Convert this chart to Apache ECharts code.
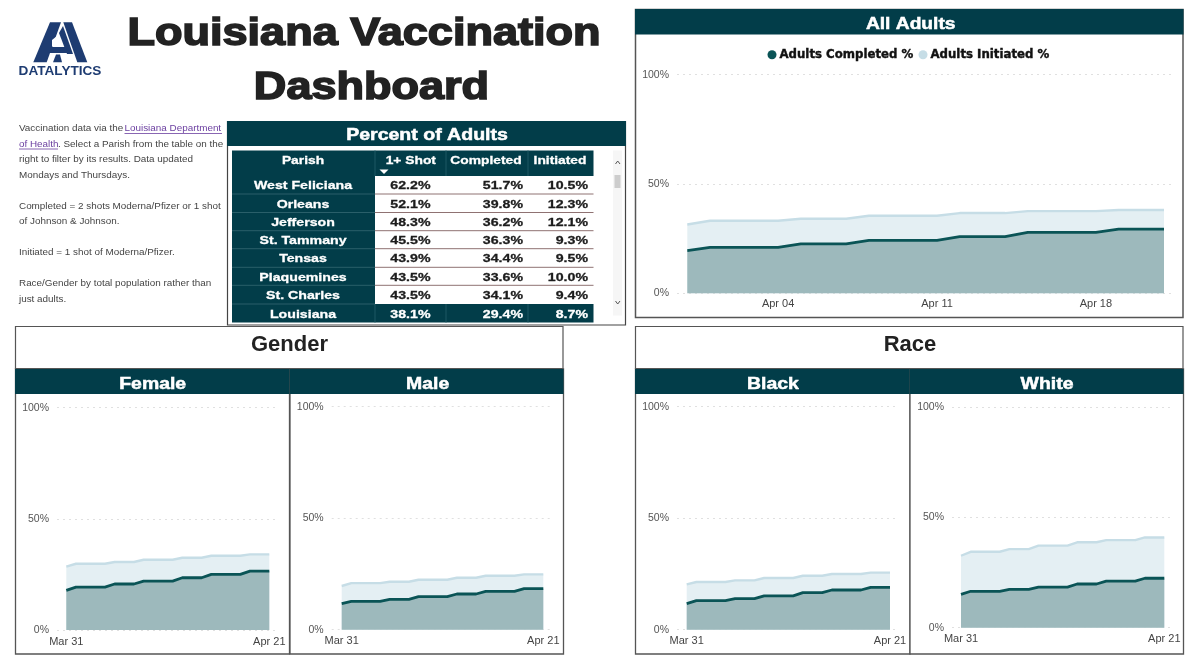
<!DOCTYPE html>
<html><head><meta charset="utf-8">
<script src="https://cdn.jsdelivr.net/npm/echarts@6/dist/echarts.min.js"></script>
<style>html,body{margin:0;padding:0;background:#fff;overflow:hidden}#chart{width:1200px;height:655px}</style>
</head><body><div id="chart"></div>
<script>
// ---------- data ----------
const days = ['Mar 31','Apr 01','Apr 02','Apr 03','Apr 04','Apr 05','Apr 06','Apr 07','Apr 08','Apr 09','Apr 10','Apr 11','Apr 12','Apr 13','Apr 14','Apr 15','Apr 16','Apr 17','Apr 18','Apr 19','Apr 20','Apr 21'];
const allCompleted    = [19.5,21,21,21,21,22.6,22.6,22.6,24.2,24.2,24.2,24.2,25.9,25.9,25.9,27.9,27.9,27.9,27.9,29.4,29.4,29.4];
const allInitiated    = [12,12.2,12.2,12.2,12.2,11.5,11.5,11.5,11.3,11.3,11.3,11.3,10.8,10.8,10.8,9.7,9.7,9.7,9.7,8.7,8.7,8.7];
const femaleCompleted = [17.8,19.3,19.3,19.3,19.3,20.7,20.7,20.7,22,22,22,22,23.5,23.5,23.5,25,25,25,25,26.5,26.5,26.5];
const femaleInitiated = [10.7,10.5,10.5,10.5,10.5,9.9,9.9,9.9,9.6,9.6,9.6,9.6,9,9,9,8.4,8.4,8.4,8.4,7.5,7.5,7.5];
const maleCompleted   = [11.7,12.7,12.7,12.7,12.7,13.6,13.6,13.6,14.8,14.8,14.8,14.8,16,16,16,17.2,17.2,17.2,17.2,18.4,18.4,18.4];
const maleInitiated   = [7.9,8.2,8.2,8.2,8.2,7.9,7.9,7.9,7.6,7.6,7.6,7.6,7.3,7.3,7.3,7,7,7,7,6.4,6.4,6.4];
const blackCompleted  = [11.7,13,13,13,13,13.9,13.9,13.9,15.2,15.2,15.2,15.2,16.6,16.6,16.6,17.8,17.8,17.8,17.8,19,19,19];
const blackInitiated  = [8.6,8.4,8.4,8.4,8.4,8.2,8.2,8.2,8,8,8,8,7.6,7.6,7.6,7.2,7.2,7.2,7.2,6.6,6.6,6.6];
const whiteCompleted  = [15.1,16.5,16.5,16.5,16.5,17.4,17.4,17.4,18.4,18.4,18.4,18.4,19.8,19.8,19.8,21.1,21.1,21.1,21.1,22.4,22.4,22.4];
const whiteInitiated  = [17.5,17.9,17.9,17.9,17.9,18.2,18.2,18.2,18.8,18.8,18.8,18.8,18.9,18.9,18.9,18.6,18.6,18.6,18.6,18.5,18.5,18.5];
const parishes  = ['West Feliciana','Orleans','Jefferson','St. Tammany','Tensas','Plaquemines','St. Charles','Louisiana'];
const oneShot   = ['62.2%','52.1%','48.3%','45.5%','43.9%','43.5%','43.5%','38.1%'];
const completed = ['51.7%','39.8%','36.2%','36.3%','34.4%','33.6%','34.1%','29.4%'];
const initiated = ['10.5%','12.3%','12.1%','9.3%','9.5%','10.0%','9.4%','8.7%'];
const tableHeads = ['Parish','1+ Shot','Completed','Initiated'];
const bigTicks = [4,11,18];
const smallTicks = [0,21];
const notes = [
  ['Vaccination data via the ',127],['of Health',143],
  ['right to filter by its results. Data updated',158],['Mondays and Thursdays.',174],
  ['Completed = 2 shots Moderna/Pfizer or 1 shot',205],['of Johnson & Johnson.',220],
  ['Initiated = 1 shot of Moderna/Pfizer.',251],
  ['Race/Gender by total population rather than',282],['just adults.',298]
];
// ---------- layout ----------
const TEAL='#023D49', PLAIN='"Liberation Sans"', LEG='"DejaVu Sans"';
const panels = [
 {c:allCompleted,i:allInitiated,ticks:bigTicks,gl:677,gr:1173.7,dl:687.3,dr:1164,top:74.7,bot:293.3,lm:5},
 {c:femaleCompleted,i:femaleInitiated,ticks:smallTicks,gl:57,gr:278,dl:66.3,dr:269.3,top:407.7,bot:630,lm:6},
 {c:maleCompleted,i:maleInitiated,ticks:smallTicks,gl:331.7,gr:553.3,dl:341.7,dr:543.3,top:406.7,bot:629.7,lm:6},
 {c:blackCompleted,i:blackInitiated,ticks:smallTicks,gl:677,gr:899,dl:686.7,dr:890,top:406.7,bot:629.7,lm:6},
 {c:whiteCompleted,i:whiteInitiated,ticks:smallTicks,gl:952,gr:1174,dl:961,dr:1164.3,top:407,bot:627.7,lm:6}
];
const W=1200,H=655;
const grid=[],xAxis=[],yAxis=[],series=[];
panels.forEach((p,k)=>{
  const perDay=(p.dr-p.dl)/21;
  grid.push({left:p.gl,width:p.gr-p.gl,top:p.top,height:p.bot-p.top,containLabel:false});
  xAxis.push({type:'value',gridIndex:k,min:-(p.dl-p.gl)/perDay,max:21+(p.gr-p.dr)/perDay,
    axisLine:{show:false},axisTick:{show:false},splitLine:{show:false},
    axisLabel:{customValues:p.ticks,formatter:v=>days[Math.round(v)],margin:p.lm,color:'#444',fontFamily:PLAIN,fontSize:11,hideOverlap:false}});
  yAxis.push({type:'value',gridIndex:k,min:0,max:100,interval:50,
    axisLine:{show:false},axisTick:{show:false},
    splitLine:{show:true,lineStyle:{type:[2,4],color:'#e0e0e0',width:1}},
    axisLabel:{formatter:'{value}%',margin:8,color:'#555',fontFamily:PLAIN,fontSize:10.5}});
  // the two shares add up: the light band sits on top of the completed share
  series.push({name:'Adults Initiated %',type:'line',xAxisIndex:k,yAxisIndex:k,data:p.i.map((v,i)=>[i,+(v+p.c[i]).toFixed(1)]),symbol:'none',z:3,
    lineStyle:{color:'#C6DDE6',width:2.4},itemStyle:{color:'#C6DDE6'},areaStyle:{color:'#E4EFF3',opacity:1}});
  series.push({name:'Adults Completed %',type:'line',xAxisIndex:k,yAxisIndex:k,data:p.c.map((v,i)=>[i,v]),symbol:'none',z:4,
    lineStyle:{color:'#0A5456',width:2.8,join:'round'},itemStyle:{color:'#0A5456'},areaStyle:{color:'#9DB9BC',opacity:1}});
});
// ---------- graphic helpers ----------
const g=[];
const rect=(x,y,w,h,fill,stroke,lw,z)=>g.push({type:'rect',silent:true,z:z||0,shape:{x,y,width:w,height:h},style:{fill:fill||'transparent',stroke:stroke||null,lineWidth:lw||0}});
const line=(x1,y1,x2,y2,stroke,lw)=>g.push({type:'line',silent:true,z:2,shape:{x1,y1,x2,y2},style:{stroke,lineWidth:lw||1}});
const text=(s,x,y,o,sx)=>g.push({type:'text',silent:true,z:5,x,y,scaleX:sx||1,style:Object.assign({text:s,textAlign:'center',textVerticalAlign:'middle',fill:'#222',fontFamily:PLAIN,fontWeight:'bold',fontSize:12},o||{})});
// wide black lettering: bold face, widened and thickened
const heavy=(s,x,y,size,fill,sw,align,sx)=>text(s,x,y,{fontSize:size,fill,stroke:fill,lineWidth:sw,textAlign:align||'center'},sx||1.2);
const poly=(pts,fill)=>g.push({type:'polygon',silent:true,z:2,shape:{points:pts},style:{fill}});
// logo
const NAVY='#1E3C72';
poly([[50,22.3],[61,22.3],[46.7,62.3],[33.3,62.3]],NAVY);
poly([[63.3,22.3],[72,22.3],[87.3,62.3],[77.3,62.3]],NAVY);
poly([[59,33],[63,26],[73,54],[67,54]],NAVY);
poly([[51,47],[66,47],[68,53],[49,53]],NAVY);
poly([[52,40],[57,36],[61,46],[52,46]],'#fff');
poly([[56,54.5],[60,54.5],[62,62.3],[53,62.3]],NAVY);
text('DATALYTICS',60,71,{fontSize:13.6,fill:NAVY});
// title
heavy('Louisiana Vaccination',364,34.5,39,'#222',1.6,'center',1.155);
heavy('Dashboard',371.5,88.5,39,'#222',1.6,'center',1.155);
// notes
const noteOpt={textAlign:'left',fontWeight:'normal',fontSize:9.9,fill:'#444'};
notes.forEach(n=>text(n[0],19,n[1]+1,noteOpt));
const LINK='#6B3FA0', linkOpt=Object.assign({},noteOpt,{fill:LINK});
text('Louisiana Department',124.5,128,linkOpt);
line(124.5,133.5,222,133.5,LINK,0.8);
g.find(e=>e.style&&e.style.text==='of Health').style.fill=LINK;
line(19,149,58,149,LINK,0.8);
text('. Select a Parish from the table on the',58,144,noteOpt);
// table panel
rect(227.5,121.5,398,203.5,'#fff','#444',1.2,0);
rect(227,121,399,25,TEAL);
heavy('Percent of Adults',427,135.5,16.3,'#fff',0.5);
const rowY=[176,194,212.5,230.7,248.7,267.3,285.3,304,322.5];
rect(232,150.5,361.5,25.5,TEAL);
rect(232,176,143,146.5,TEAL);
rect(375,304,218.5,18.5,TEAL);
const headX=[303,410.8,486,560];
tableHeads.forEach((h,i)=>heavy(h,headX[i],161,11.5,'#fff',0.3));
poly([[379.5,169.5],[388.5,169.5],[384,174]],'#fff');
[375,446,528].forEach(x=>{line(x,150.5,x,176,'#1d5965',1);line(x,304,x,322.5,'#1d5965',1);});
parishes.forEach((name,r)=>{
  const y=(rowY[r]+rowY[r+1])/2+1, total=r===parishes.length-1, col=total?'#fff':'#1c1c1c';
  heavy(name,303,y,11.8,'#fff',0.3);
  heavy(oneShot[r],410.4,y,11.8,col,0.3);
  heavy(completed[r],523,y,11.8,col,0.3,'right');
  heavy(initiated[r],588,y,11.8,col,0.3,'right');
  if(!total){
    line(232,rowY[r+1],375,rowY[r+1],'#2a5f6a',1);
    if(r<parishes.length-2)line(375,rowY[r+1],593.5,rowY[r+1],'#8f7272',1);
  }
});
// scrollbar
rect(613,150.5,9,165,'#f6f6f6');
rect(614.5,175,6,13,'#cdcdcd');
g.push({type:'polyline',silent:true,z:3,shape:{points:[[615.5,164],[617.7,161],[620,164]]},style:{stroke:'#555',lineWidth:1,fill:null}});
g.push({type:'polyline',silent:true,z:3,shape:{points:[[615.5,301],[617.7,304],[620,301]]},style:{stroke:'#555',lineWidth:1,fill:null}});
// chart panels
rect(635.5,9.5,547.5,308,'#fff','#555',1.5);
rect(635,9,548.5,25.5,TEAL);
heavy('All Adults',910.7,25,16,'#fff',0.5);
[[15.5,547.5,'Gender',289.5],[635.5,547.5,'Race',910]].forEach(b=>{
  rect(b[0],326.5,b[1],42,'#fff','#555',1.2);
  text(b[2],b[3],344.5,{fontSize:22,fill:'#222'});
});
[[15,274,'Female',152.7],[289.5,273.5,'Male',427.7],[635,274.5,'Black',773],[909.5,273.5,'White',1047]].forEach(b=>{
  rect(b[0]+.5,369,b[1],285,'#fff','#555',1.3);
  rect(b[0],369,b[1]+.5,25,TEAL);
  heavy(b[2],b[3],384.5,16.2,'#fff',0.5);
});
// ---------- chart ----------
const chart=echarts.init(document.getElementById('chart'),null,{width:W,height:H,renderer:'canvas'});
chart.setOption({
  animation:false,backgroundColor:'#fff',
  legend:{left:767.5,top:48.5,itemWidth:9,itemHeight:9,itemGap:5,icon:'circle',padding:0,
    data:[{name:'Adults Completed %',itemStyle:{color:'#0A5456'}},{name:'Adults Initiated %',itemStyle:{color:'#C6DDE6'}}],
    textStyle:{fontFamily:LEG,fontWeight:'bold',fontSize:11.75,color:'#111',textBorderColor:'#111',textBorderWidth:0.4,padding:[0,0,0,-2]}},
  grid,xAxis,yAxis,series,
  graphic:{elements:g}
});
</script></body></html>
